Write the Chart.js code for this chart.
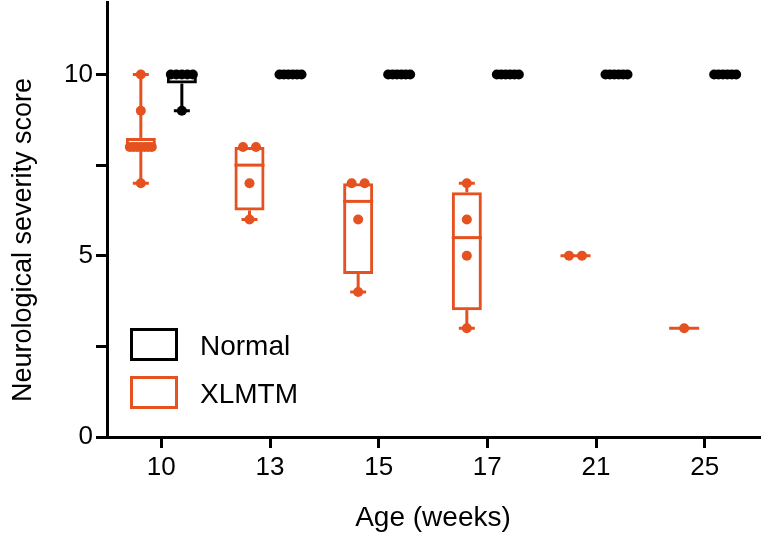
<!DOCTYPE html>
<html><head><meta charset="utf-8">
<script src="https://cdn.jsdelivr.net/npm/chart.js@4/dist/chart.umd.min.js"></script>
<style>html,body{margin:0;padding:0;background:#fff}#wrap{width:763px;height:535px}</style>
</head><body><div id="wrap"><canvas id="c" width="763" height="535"></canvas></div>
<script>
const weeks = ['10','13','15','17','21','25'];
const seriesNames = ['Normal','XLMTM'];
const yTitle = 'Neurological severity score';
const xTitle = 'Age (weeks)';

// Normal mice: individual scores and box statistics per age
const normalPoints = [
  [10,10,10,10,10,9],
  [10,10,10,10,10,10],
  [10,10,10,10,10,10],
  [10,10,10,10,10,10],
  [10,10,10,10,10,10],
  [10,10,10,10,10,10]
];
const normalMin    = [9,10,10,10,10,10];
const normalQ1     = [9.75,10,10,10,10,10];
const normalMedian = [10,10,10,10,10,10];
const normalQ3     = [10,10,10,10,10,10];
const normalMax    = [10,10,10,10,10,10];

// XLMTM mice
const xlmtmPoints = [
  [10,9,8,8,8,8,8,8,8,7],
  [8,8,7,6],
  [7,7,6,4],
  [7,6,5,3],
  [5,5],
  [3]
];
const xlmtmMin    = [7,6,4,3,5,3];
const xlmtmQ1     = [8,6.25,4.5,3.5,5,3];
const xlmtmMedian = [8,7.5,6.5,5.5,5,3];
const xlmtmQ3     = [8.25,8,7,6.75,5,3];
const xlmtmMax    = [10,8,7,7,5,3];

const yLabelled = [0,5,10];

const ORANGE = '#E5521F';
const BLACK = '#000000';
const FONT = "'Liberation Sans', Arial, Helvetica, sans-serif";

const boxPlugin = {
  id: 'boxExtras',
  afterDatasetsDraw(chart) {
    const ctx = chart.ctx, ys = chart.scales.y;
    chart.data.datasets.forEach((ds, di) => {
      const meta = chart.getDatasetMeta(di);
      const st = ds.stats;
      meta.data.forEach((bar, i) => {
        const x = bar.x, half = bar.width / 2;
        const col = ds.borderColor;
        ctx.save();
        ctx.strokeStyle = col; ctx.fillStyle = col; ctx.lineWidth = 3; ctx.lineCap = 'butt';
        const py = v => ys.getPixelForValue(v);
        const seg = (x1, y1, x2, y2) => { ctx.beginPath(); ctx.moveTo(x1, y1); ctx.lineTo(x2, y2); ctx.stroke(); };
        if (st.min[i] < st.q1[i]) { seg(x, py(st.min[i]), x, py(st.q1[i])); seg(x - 8, py(st.min[i]), x + 8, py(st.min[i])); }
        if (st.max[i] > st.q3[i]) { seg(x, py(st.q3[i]), x, py(st.max[i])); seg(x - 8, py(st.max[i]), x + 8, py(st.max[i])); }
        seg(x - half, py(st.median[i]), x + half, py(st.median[i]));
        const counts = {};
        st.points[i].forEach(v => { counts[v] = (counts[v] || 0) + 1; });
        Object.keys(counts).forEach(k => {
          const n = counts[k], v = parseFloat(k);
          const sp = n > 1 ? Math.min(13, 22 / (n - 1)) : 0;
          for (let j = 0; j < n; j++) {
            const dx = (j - (n - 1) / 2) * sp;
            ctx.beginPath(); ctx.arc(x + dx, py(v), 5, 0, Math.PI * 2); ctx.fill();
          }
        });
        ctx.restore();
      });
    });
  },
  afterDraw(chart) {
    const ctx = chart.ctx, ca = chart.chartArea;
    const items = [{ name: seriesNames[0], color: BLACK }, { name: seriesNames[1], color: ORANGE }];
    ctx.save();
    items.forEach((it, k) => {
      const bx = ca.left + 23, by = ca.top + 326 + k * 48;
      ctx.strokeStyle = it.color; ctx.lineWidth = 3;
      ctx.strokeRect(bx + 1.5, by + 1.5, 45, 30);
      ctx.fillStyle = '#000';
      ctx.font = '28px ' + FONT;
      ctx.textBaseline = 'middle'; ctx.textAlign = 'left';
      ctx.fillText(it.name, ca.left + 93, by + 19);
    });
    // y-axis title
    ctx.translate(24, ca.top + 238);
    ctx.rotate(-Math.PI / 2);
    ctx.textAlign = 'center'; ctx.textBaseline = 'middle';
    ctx.fillStyle = '#000';
    ctx.font = '27px ' + FONT;
    ctx.fillText(yTitle, 0, 0);
    ctx.restore();
  }
};

const chart = new Chart(document.getElementById('c'), {
  type: 'bar',
  data: {
    labels: weeks,
    datasets: [
      {
        label: seriesNames[1],
        data: weeks.map((_, i) => [xlmtmQ1[i], xlmtmQ3[i]]),
        stats: { points: xlmtmPoints, min: xlmtmMin, q1: xlmtmQ1, median: xlmtmMedian, q3: xlmtmQ3, max: xlmtmMax },
        borderColor: ORANGE, backgroundColor: 'rgba(255,255,255,0)', borderWidth: 3, borderSkipped: false
      },
      {
        label: seriesNames[0],
        data: weeks.map((_, i) => [normalQ1[i], normalQ3[i]]),
        stats: { points: normalPoints, min: normalMin, q1: normalQ1, median: normalMedian, q3: normalQ3, max: normalMax },
        borderColor: BLACK, backgroundColor: 'rgba(255,255,255,0)', borderWidth: 3, borderSkipped: false
      }
    ]
  },
  options: {
    responsive: false, animation: false, devicePixelRatio: 1,
    categoryPercentage: 0.755, barPercentage: 0.732,
    layout: { padding: { left: 0, right: 4, top: 2, bottom: 0 } },
    plugins: { legend: { display: false }, tooltip: { enabled: false } },
    scales: {
      x: {
        type: 'category', offset: true,
        grid: { offset: false, drawOnChartArea: false, drawTicks: true, tickLength: 11, tickWidth: 3, tickColor: '#000', color: '#000', lineWidth: 3 },
        border: { display: true, width: 3, color: '#000' },
        ticks: { color: '#000', font: { family: FONT, size: 26 }, padding: 4, maxRotation: 0 },
        title: { display: true, text: xTitle, color: '#000', font: { family: FONT, size: 28 }, padding: { top: 0, bottom: 0 } },
        afterFit(s) { s.height = 98; s.paddingLeft = 0; s.paddingRight = 0; }
      },
      y: {
        min: 0, max: 12,
        grid: { drawOnChartArea: false, drawTicks: true, tickLength: 11, tickWidth: 3, tickColor: '#000', color: '#000', lineWidth: 3 },
        border: { display: true, width: 3, color: '#000' },
        ticks: { stepSize: 2.5, color: '#000', font: { family: FONT, size: 26 }, padding: 3,
          callback: v => (yLabelled.includes(v) ? String(v) : '') },
        afterBuildTicks(s) { s.ticks = s.ticks.filter(t => t.value <= 10); },
        title: { display: false },
        afterFit(s) { s.width = 107; s.paddingTop = 0; s.paddingBottom = 0; }
      }
    }
  },
  plugins: [boxPlugin]
});
</script></body></html>
